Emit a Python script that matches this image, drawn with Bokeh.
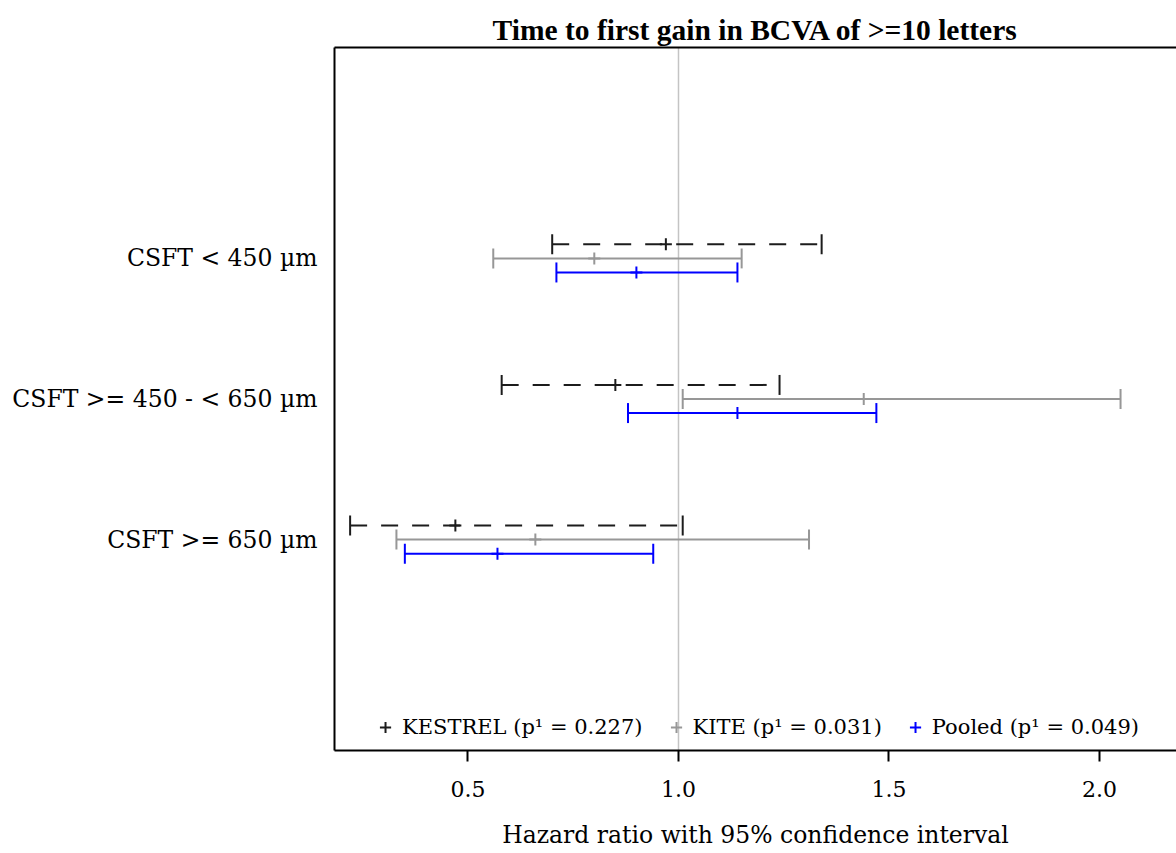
import math
from bokeh.plotting import figure
from bokeh.models import (Range1d, FixedTicker, LinearAxis, Span, Legend, LegendItem,
                          ColumnDataSource)
from bokeh.embed import file_html
from bokeh.resources import INLINE

# ---------------- data ----------------
categories = ["CSFT < 450 µm", "CSFT >= 450 - < 650 µm", "CSFT >= 650 µm"]
series_labels = ["KESTREL (p¹ = 0.227)", "KITE (p¹ = 0.031)", "Pooled (p¹ = 0.049)"]

kestrel_hr = [0.97, 0.85, 0.47]
kestrel_lo = [0.70, 0.58, 0.22]
kestrel_hi = [1.34, 1.24, 1.01]

kite_hr = [0.80, 1.44, 0.66]
kite_lo = [0.56, 1.01, 0.33]
kite_hi = [1.15, 2.05, 1.31]

pooled_hr = [0.90, 1.14, 0.57]
pooled_lo = [0.71, 0.88, 0.35]
pooled_hi = [1.14, 1.47, 0.94]

x_ticks = [0.5, 1.0, 1.5, 2.0]
x_tick_labels = ["0.5", "1.0", "1.5", "2.0"]
reference_hr = 1.0

title_text = "Time to first gain in BCVA of >=10 letters"
x_label = "Hazard ratio with 95% confidence interval"

# ---------------- styling ----------------
SERIF = "DejaVu Serif"
n = len(categories)
group_pos = [n - i for i in range(n)]          # 3, 2, 1 top to bottom
offsets = [0.1, 0.0, -0.1]
colors = ["#1c1c1c", "#979797", "#0000ff"]
dashes = ["17 14", "solid", "solid"]

p = figure(width=1176, height=853, output_backend="svg", toolbar_location=None,
           x_range=Range1d(0.1829, 2.1829), y_range=Range1d(-0.5, n + 1.5),
           min_border_left=334, min_border_right=0, min_border_top=47,
           min_border_bottom=103)
p.background_fill_color = "white"
p.border_fill_color = "white"
p.outline_line_color = None
p.xgrid.visible = False
p.ygrid.visible = False

# title
p.title.text = title_text
p.title.align = "center"
p.title.text_font = "Liberation Serif"
p.title.text_font_size = "29.5px"
p.title.text_font_style = "bold"
p.title.text_color = "black"
p.title.standoff = 3

# x axis
xa = p.xaxis[0]
xa.ticker = FixedTicker(ticks=x_ticks)
xa.major_label_overrides = {t: l for t, l in zip(x_ticks, x_tick_labels)}
xa.minor_tick_line_color = None
xa.major_tick_out = 11
xa.major_tick_in = 0
xa.major_tick_line_width = 2
xa.major_tick_line_color = "black"
xa.axis_line_width = 2
xa.axis_line_color = "black"
xa.major_label_text_font = SERIF
xa.major_label_text_font_size = "22px"
xa.major_label_text_color = "black"
xa.major_label_standoff = 19
xa.axis_label = x_label
xa.axis_label_text_font = SERIF
xa.axis_label_text_font_size = "23.5px"
xa.axis_label_text_font_style = "normal"
xa.axis_label_text_color = "black"
xa.axis_label_standoff = 21

# y axis
ya = p.yaxis[0]
ya.ticker = FixedTicker(ticks=group_pos)
ya.major_label_overrides = {g: c for g, c in zip(group_pos, categories)}
ya.minor_tick_line_color = None
ya.major_tick_line_color = None
ya.major_tick_out = 0
ya.major_tick_in = 0
ya.axis_line_width = 2
ya.axis_line_color = "black"
ya.major_label_text_font = SERIF
ya.major_label_text_font_size = "23.5px"
ya.major_label_text_color = "black"
ya.major_label_standoff = 17

# top border line (axis without ticks or labels); the (empty) tick length
# reserves a little space between the frame and the title
top = LinearAxis(ticker=FixedTicker(ticks=[]), major_tick_line_color="white",
                 minor_tick_line_color=None, major_tick_out=9, major_tick_in=0,
                 major_label_standoff=0, axis_line_width=2, axis_line_color="black")
p.add_layout(top, "above")

# reference line
p.add_layout(Span(location=reference_hr, dimension="height", line_color="#c4c4c4",
                  line_width=1.5, level="underlay"))

# ---------------- series ----------------
all_series = [
    (kestrel_hr, kestrel_lo, kestrel_hi),
    (kite_hr, kite_lo, kite_hi),
    (pooled_hr, pooled_lo, pooled_hi),
]
legend_items = []
for k, ((hr, lo, hi), lab) in enumerate(zip(all_series, series_labels)):
    ys = [g + offsets[k] for g in group_pos]
    src = ColumnDataSource(dict(y=ys, hr=hr, lo=lo, hi=hi))
    p.segment(x0="lo", y0="y", x1="hi", y1="y", source=src, line_color=colors[k],
              line_width=2, line_dash=dashes[k])
    p.scatter(x="lo", y="y", source=src, marker="dash", angle=math.pi / 2, size=20,
              line_color=colors[k], line_width=2)
    p.scatter(x="hi", y="y", source=src, marker="dash", angle=math.pi / 2, size=20,
              line_color=colors[k], line_width=2)
    pts = p.scatter(x="hr", y="y", source=src, marker="cross", size=12,
                    line_color=colors[k], line_width=2)
    legend_items.append(LegendItem(label=lab, renderers=[pts]))

legend = Legend(items=legend_items, orientation="horizontal", location="bottom_center",
                label_text_font=SERIF, label_text_font_size="21px",
                label_text_color="black", glyph_width=28, glyph_height=28,
                label_standoff=3, spacing=19, padding=0, margin=9,
                background_fill_alpha=0, border_line_color=None)
p.add_layout(legend, "center")

open("out.html", "w").write(file_html(p, INLINE))
